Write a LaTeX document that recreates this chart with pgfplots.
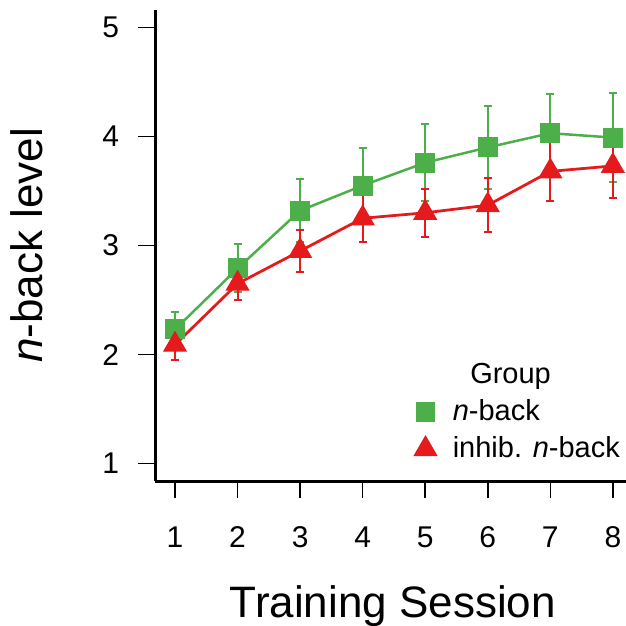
\documentclass[border=0pt]{standalone}
\usepackage{fontspec}
\setmainfont{Liberation Sans}
\usepackage{pgfplots}
\usepackage{pgfplotstable}
\pgfplotsset{compat=1.18}
\usetikzlibrary{calc}
\definecolor{ngreen}{HTML}{4DAF4A}
\definecolor{nred}{HTML}{E41A1C}
\pgfplotstableread{
x y e
1 2.23 0.16
2 2.79 0.22
3 3.32 0.29
4 3.55 0.34
5 3.76 0.35
6 3.90 0.38
7 4.03 0.36
8 3.99 0.41
}\nback
\pgfplotstableread{
x y e
1 2.09 0.14
2 2.65 0.15
3 2.95 0.19
4 3.25 0.22
5 3.30 0.22
6 3.37 0.25
7 3.68 0.27
8 3.73 0.29
}\inhib
\begin{document}
\begin{tikzpicture}
\begin{axis}[name=ax, scale only axis, width=188.4pt, height=188.4pt,
  xmin=0.68, xmax=8.21, ymin=0.84, ymax=5.16,
  axis x line*=bottom, axis y line*=left,
  axis line style={line width=1.2pt, -},
  xtick={1,...,8}, ytick={1,...,5},
  tick align=outside, major tick length=6.8pt,
  tick style={line width=0.6pt, black},
  /pgf/number format/assume math mode=true,
  tick label style={font=\fontsize{12}{14}\selectfont},
  xticklabel style={yshift=-8pt},
  yticklabel style={xshift=-4pt},
  xlabel={Training Session},
  ylabel={\textit{n}-back level},
  xlabel style={font=\fontsize{17.6}{20}\selectfont, at={([yshift=-54.4pt]axis description cs:0.505,0)}, anchor=base},
  ylabel style={font=\fontsize{17.6}{20}\selectfont, at={([xshift=-44.8pt]axis description cs:0,0.5)}, anchor=base},
]
\addplot[color=ngreen, line width=1pt, mark=square*, mark size=3.8pt,
  mark options={line width=0.4pt, fill=ngreen, draw=ngreen},
  error bars/.cd, y dir=both, y explicit,
  error bar style={line width=0.8pt, color=ngreen},
  error mark=|,
  error mark options={mark size=1.6pt, line width=0.8pt, color=ngreen}]
  table[x=x, y=y, y error=e] {\nback};
\addplot[color=nred, line width=1.1pt, mark=triangle*, mark size=5.2pt,
  mark options={line width=0.4pt, fill=nred, draw=nred},
  error bars/.cd, y dir=both, y explicit,
  error bar style={line width=0.8pt, color=nred},
  error mark=|,
  error mark options={mark size=1.6pt, line width=0.8pt, color=nred}]
  table[x=x, y=y, y error=e] {\inhib};
\end{axis}
\begin{axis}[scale only axis, width=188.4pt, height=188.4pt, at={(ax.south west)}, anchor=south west,
  xmin=0.68, xmax=8.21, ymin=0.84, ymax=5.16, hide axis,
  legend style={draw=none, fill=none, at={(rel axis cs:0.512,0.273)}, anchor=north west,
    font=\fontsize{11.6}{13}\selectfont, row sep=1pt, column sep=4.4pt},
  legend cell align=left]
\addlegendimage{empty legend}
\addlegendentry{\hspace{7pt}Group}
\addlegendimage{only marks, mark=square*, mark size=3.7pt, color=ngreen, mark options={fill=ngreen}}
\addlegendentry{\textit{n}-back}
\addlegendimage{only marks, mark=triangle*, mark size=5.2pt, color=nred, mark options={fill=nred}}
\addlegendentry{inhib. \textit{n}-back}
\end{axis}
\pgfresetboundingbox
\path[use as bounding box] ($(ax.south west)+(-62pt,-57.6pt)$) rectangle ($(ax.north east)+(0pt,4pt)$);
\end{tikzpicture}
\end{document}
